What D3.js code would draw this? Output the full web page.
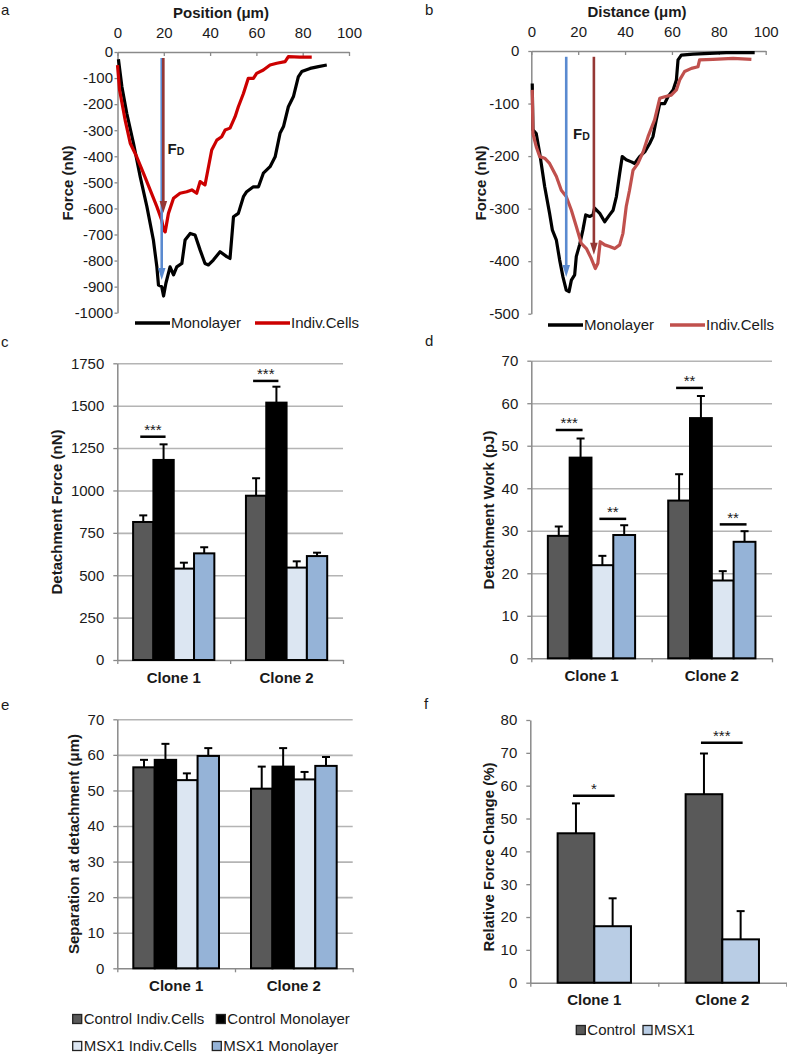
<!DOCTYPE html>
<html><head><meta charset="utf-8">
<script src="https://cdn.jsdelivr.net/npm/d3@7"></script>
<style>body{margin:0;background:#fff}svg{font-family:"Liberation Sans",Arial,sans-serif;display:block}</style>
</head><body>
<svg id="fig" width="787" height="1056"></svg>
<script>
// ---------------- DATA ----------------
// Panel a (Position µm, Force nN)
const aMonolayer = [[0.4,-28],[1.9,-133],[4,-235],[6.9,-350],[9.8,-478],[12.7,-593],[15.5,-721],[17,-824],[17.7,-894],[19.1,-900],[19.9,-936],[20.9,-887],[22.7,-824],[24.2,-855],[25.6,-824],[27.8,-811],[29.2,-721],[31.4,-696],[33.5,-702],[35.7,-760],[37.8,-811],[39.3,-817],[41.4,-798],[44.3,-766],[47.2,-785],[48.6,-792],[50.1,-632],[52.2,-619],[54.4,-555],[55.8,-536],[58.7,-517],[60.9,-517],[63,-465],[65.9,-440],[68.1,-402],[70.2,-312],[71.7,-286],[73.8,-210],[76,-171],[78.1,-95],[79.6,-75],[83.2,-63],[86.8,-56],[90.4,-50]];
const aIndivCells = [[0,-50],[0.9,-146],[3.3,-261],[5.5,-350],[8.3,-402],[11.2,-465],[14.1,-529],[17,-593],[19.1,-645],[19.9,-683],[20.6,-690],[22,-619],[24.2,-561],[27,-542],[29.9,-536],[32.1,-529],[34.2,-542],[35.7,-497],[37.8,-510],[40.7,-376],[42.9,-338],[45,-325],[46.5,-299],[48.6,-292],[50.8,-248],[52.2,-210],[54.4,-159],[56.5,-101],[58.7,-101],[60.1,-82],[63,-69],[65.9,-50],[68.8,-43],[72.4,-37],[73.8,-18],[78.8,-20],[83.9,-20]];
const aArrowX = [19.1, 19.8];
const aArrowTop = [-23, -23];
const aArrowTip = [-875, -618];

// Panel b (Distance µm, Force nN)
const bMonolayer = [[0.4,-62],[0.7,-150],[2.1,-157],[3.6,-195],[5.7,-258],[7.8,-309],[9,-341],[10.7,-360],[12.1,-398],[13.5,-430],[14.9,-455],[16.1,-458],[17.1,-436],[18.5,-426],[19.2,-391],[20.6,-369],[22,-341],[23.2,-312],[24.9,-315],[26.3,-312],[27,-299],[29.2,-309],[31.3,-325],[33.4,-312],[34.9,-303],[36.3,-277],[37.7,-233],[38.8,-201],[40.5,-207],[42.7,-211],[44.1,-214],[46.2,-201],[48.4,-192],[50.5,-176],[51.9,-163],[53.3,-131],[54.8,-100],[56.9,-100],[58.3,-87],[60.5,-74],[61.9,-55],[62.6,-17],[64,-8],[69,-6],[83.2,-3],[95.3,-3]];
const bIndivCells = [[0.4,-74],[0.7,-157],[2.1,-182],[3.6,-201],[5.7,-204],[7.8,-214],[10.7,-239],[12.8,-265],[14.9,-277],[17.1,-303],[19.2,-334],[21.3,-366],[23.5,-376],[25.6,-395],[27.3,-414],[28.4,-404],[29.4,-363],[31.3,-369],[33.4,-372],[35.6,-376],[37.7,-369],[39.1,-347],[40.5,-296],[41.9,-265],[43.4,-227],[45.5,-214],[47.7,-192],[49.8,-163],[52.6,-131],[54.8,-90],[56.9,-87],[59.7,-84],[61.9,-74],[63.3,-55],[65.4,-39],[68.3,-33],[71.1,-30],[71.8,-17],[77.5,-16],[86.1,-14],[93.9,-16]];
const bArrowX = [14.9, 26.7];
const bArrowTop = [-11, -11];
const bArrowTip = [-430, -388];

// Bar panels
const clones = ["Clone 1", "Clone 2"];
const series4 = ["Control Indiv.Cells", "Control Monolayer", "MSX1 Indiv.Cells", "MSX1 Monolayer"];
const series2 = ["Control", "MSX1"];

const forceMean = [[814, 1180, 539, 629], [969, 1518, 545, 613]];
const forceErr  = [[39, 92, 35, 36], [103, 94, 37, 20]];
const forceSig  = [[0, 0, 1, 1317, "***"], [1, 0, 1, 1646, "***"]];
const forceTicks = [0, 250, 500, 750, 1000, 1250, 1500, 1750];

const workMean = [[28.8, 47.2, 21.9, 29.0], [37.1, 56.5, 18.3, 27.4]];
const workErr  = [[2.2, 4.5, 2.2, 2.3], [6.2, 5.2, 2.2, 2.5]];
const workSig  = [[0, 0, 1, 53.7, "***"], [0, 2, 3, 32.8, "**"], [1, 0, 1, 63.6, "**"], [1, 2, 3, 31.5, "**"]];
const workTicks = [0, 10, 20, 30, 40, 50, 60, 70];

const sepMean = [[56.5, 58.6, 52.9, 59.7], [50.5, 56.7, 53.1, 56.9]];
const sepErr  = [[2.1, 4.5, 1.9, 2.2], [6.2, 5.2, 2.1, 2.5]];
const sepTicks = [0, 10, 20, 30, 40, 50, 60, 70];

const relMean = [[45.5, 17.2], [57.4, 13.2]];
const relErr  = [[9.1, 8.5], [12.4, 8.6]];
const relSig  = [[0, 0, 1, 56.9, "*"], [1, 0, 1, 73.1, "***"]];
const relTicks = [0, 10, 20, 30, 40, 50, 60, 70, 80];

const posTicks = [0, 20, 40, 60, 80, 100];
const aForceTicks = [0,-100,-200,-300,-400,-500,-600,-700,-800,-900,-1000];
const bForceTicks = [0,-100,-200,-300,-400,-500];

// ---------------- STYLE ----------------
const AXIS = "#8a8a8a", GRID = "#b4b4b4", TXT = "#1a1a1a";
const BLUE = "#5a8ad0", BROWN = "#953735";
const col4 = ["#595959", "#000000", "#dce6f2", "#95b3d7"];
const col2 = ["#595959", "#b9cde5"];
const fmt = d => String(d);

const svg = d3.select("#fig");

function styleAxis(s, fs) {
  s.attr("font-family", null).attr("font-size", null);
  s.selectAll(".domain").attr("stroke", AXIS).attr("stroke-width", 1.5);
  s.selectAll(".tick line").attr("stroke", AXIS).attr("stroke-width", 1.3);
  s.selectAll(".tick text").attr("fill", TXT).attr("font-size", fs);
}

function rotLabel(text, cx, cy) {
  svg.append("text").attr("transform", `translate(${cx},${cy}) rotate(-90)`)
    .attr("text-anchor", "middle").attr("dy", "0.35em")
    .attr("font-size", 15).attr("font-weight", "bold").attr("fill", TXT).text(text);
}
function panelLetter(t, x, y) {
  svg.append("text").attr("x", x).attr("y", y).attr("font-size", 15).attr("fill", TXT).text(t);
}

// ---------------- LINE PANELS ----------------
function linePanel(o) {
  const x = d3.scaleLinear().domain([0, 100]).range([o.x0, o.x1]);
  const y = d3.scaleLinear().domain([0, o.ymin]).range([o.yTop, o.yBot]);
  const g = svg.append("g");
  g.append("g").attr("transform", `translate(0,${o.yTop})`)
    .call(d3.axisTop(x).tickValues(posTicks).tickFormat(fmt).tickSizeInner(-4).tickSizeOuter(0).tickPadding(14))
    .call(s => styleAxis(s, 15));
  g.append("g").attr("transform", `translate(${o.x0},0)`)
    .call(d3.axisLeft(y).tickValues(o.yticks).tickFormat(fmt).tickSizeInner(3).tickSizeOuter(0).tickPadding(o.ypad))
    .call(s => styleAxis(s, 15));
  g.append("text").attr("x", o.titleX).attr("y", o.titleY).attr("text-anchor", "middle")
    .attr("font-size", 15).attr("font-weight", "bold").attr("fill", TXT).text(o.title);
  rotLabel("Force (nN)", o.ylx, o.yly);

  const line = d3.line().x(d => x(d[0])).y(d => y(d[1]));
  g.append("path").attr("d", line(o.mono)).attr("fill", "none").attr("stroke", "#000").attr("stroke-width", 3.2).attr("stroke-linejoin", "round");
  g.append("path").attr("d", line(o.indiv)).attr("fill", "none").attr("stroke", o.red).attr("stroke-width", 3.2).attr("stroke-linejoin", "round");

  // arrows (F_D)
  const acol = [BLUE, BROWN];
  o.arrowX.forEach((ax, i) => {
    const px = x(ax), ytop = y(o.arrowTop[i]), ytip = y(o.arrowTip[i]);
    const hl = 12, hw = 3.8;
    g.append("line").attr("x1", px).attr("x2", px).attr("y1", ytop).attr("y2", ytip - hl + 1)
      .attr("stroke", acol[i]).attr("stroke-width", 2.6);
    g.append("path").attr("d", `M${px - hw},${ytip - hl}L${px + hw},${ytip - hl}L${px},${ytip}Z`).attr("fill", acol[i]);
  });
  const fd = g.append("text").attr("x", o.fdX).attr("y", o.fdY).attr("font-weight", "bold").attr("fill", TXT);
  fd.append("tspan").attr("font-size", 15).text("F");
  fd.append("tspan").attr("font-size", 10.5).attr("dy", 1).text("D");

  // legend
  const lg = g.append("g");
  [[o.legX[0], "#000", "Monolayer"], [o.legX[1], o.red, "Indiv.Cells"]].forEach(([lx, c, t]) => {
    lg.append("line").attr("x1", lx).attr("x2", lx + 35).attr("y1", o.legY).attr("y2", o.legY).attr("stroke", c).attr("stroke-width", 3.5);
    lg.append("text").attr("x", lx + 36).attr("y", o.legY).attr("dy", "0.35em").attr("font-size", 15).attr("fill", TXT).text(t);
  });
}

linePanel({x0: 117.5, x1: 349, yTop: 52, yBot: 312.7, ymin: -1000, yticks: aForceTicks, ypad: 1.5,
  title: "Position (μm)", titleX: 221, titleY: 18, ylx: 68, yly: 183,
  mono: aMonolayer, indiv: aIndivCells, red: "#cc0000",
  arrowX: aArrowX, arrowTop: aArrowTop, arrowTip: aArrowTip, fdX: 167.5, fdY: 153.5,
  legX: [135, 255], legY: 323});
linePanel({x0: 531.3, x1: 765.7, yTop: 51, yBot: 313.7, ymin: -500, yticks: bForceTicks, ypad: 9,
  title: "Distance (μm)", titleX: 637, titleY: 16.5, ylx: 480.5, yly: 183,
  mono: bMonolayer, indiv: bIndivCells, red: "#c0504d",
  arrowX: bArrowX, arrowTop: bArrowTop, arrowTip: bArrowTip, fdX: 573, fdY: 138.5,
  legX: [548, 670], legY: 325});

// ---------------- BAR PANELS ----------------
function barPanel(o) {
  const g = svg.append("g");
  const max = o.ticks[o.ticks.length - 1];
  const y = d3.scaleLinear().domain([0, max]).range([o.yBot, o.yTop]);
  const xo = d3.scaleBand().domain(clones).range([o.x0, o.x1]);
  const gw = xo.bandwidth() * o.frac;
  const xi = d3.scaleBand().domain(d3.range(o.means[0].length)).range([0, gw]);
  const bw = xi.bandwidth();
  const bx = (ci, si) => xo(clones[ci]) + (xo.bandwidth() - gw) / 2 + xi(si);

  if (o.grid) {
    g.append("g").attr("transform", `translate(${o.x0},0)`)
      .call(d3.axisLeft(y).tickValues(o.ticks.filter(t => t > 0)).tickSize(-(o.x1 - o.x0)).tickFormat(""))
      .call(s => { s.select(".domain").remove(); s.selectAll("line").attr("stroke", GRID).attr("stroke-width", 1.6); });
  }
  g.append("g").attr("transform", `translate(${o.x0},0)`)
    .call(d3.axisLeft(y).tickValues(o.ticks).tickFormat(fmt).tickSizeInner(4).tickSizeOuter(0).tickPadding(9))
    .call(s => styleAxis(s, 15));
  g.append("g").attr("transform", `translate(0,${o.yBot})`)
    .call(d3.axisBottom(xo).tickSize(0).tickPadding(12))
    .call(s => { styleAxis(s, 15); s.selectAll(".tick text").attr("font-weight", "bold"); });
  const xb = d3.scaleLinear().domain([0, clones.length]).range([o.x0, o.x1]);
  g.append("g").attr("transform", `translate(0,${o.yBot})`)
    .call(d3.axisBottom(xb).tickValues(d3.range(clones.length + 1)).tickSize(4).tickFormat(""))
    .call(s => { s.select(".domain").remove(); s.selectAll("line").attr("stroke", AXIS).attr("stroke-width", 1.3); });

  // bars
  o.means.forEach((row, ci) => row.forEach((v, si) => {
    g.append("rect").attr("x", bx(ci, si)).attr("y", y(v)).attr("width", bw).attr("height", y(0) - y(v))
      .attr("fill", o.colors[si]).attr("stroke", "#000").attr("stroke-width", 2);
  }));
  // error bars
  o.means.forEach((row, ci) => row.forEach((v, si) => {
    const cx = bx(ci, si) + bw / 2, yt = y(v + o.errs[ci][si]);
    g.append("line").attr("x1", cx).attr("x2", cx).attr("y1", y(v)).attr("y2", yt).attr("stroke", "#000").attr("stroke-width", 2);
    g.append("line").attr("x1", cx - 4).attr("x2", cx + 4).attr("y1", yt).attr("y2", yt).attr("stroke", "#000").attr("stroke-width", 2);
  }));
  // significance
  (o.sig || []).forEach(([ci, a, b, v, lab]) => {
    const xa = bx(ci, a) + bw / 2 - 3, xbb = bx(ci, b) + bw / 2 + 2, yy = y(v);
    g.append("line").attr("x1", xa).attr("x2", xbb).attr("y1", yy).attr("y2", yy).attr("stroke", "#000").attr("stroke-width", 2.5);
    g.append("text").attr("x", (xa + xbb) / 2).attr("y", yy - 1.5).attr("text-anchor", "middle")
      .attr("font-size", 15).attr("fill", TXT).text(lab);
  });
  rotLabel(o.ylabel, o.ylx, o.yly);
}

barPanel({x0: 117.3, x1: 343, yTop: 363.3, yBot: 660, ticks: forceTicks, means: forceMean, errs: forceErr,
  sig: forceSig, colors: col4, frac: 0.72, grid: true, ylabel: "Detachment Force (nN)", ylx: 57, yly: 512});
barPanel({x0: 531.3, x1: 772, yTop: 360.7, yBot: 658.3, ticks: workTicks, means: workMean, errs: workErr,
  sig: workSig, colors: col4, frac: 0.725, grid: true, ylabel: "Detachment Work (pJ)", ylx: 488.5, yly: 510});
barPanel({x0: 117.3, x1: 352.7, yTop: 719.3, yBot: 968.3, ticks: sepTicks, means: sepMean, errs: sepErr,
  sig: [], colors: col4, frac: 0.728, grid: true, ylabel: "Separation at detachment (μm)", ylx: 74, yly: 844});
barPanel({x0: 530.3, x1: 786.3, yTop: 720, yBot: 982.7, ticks: relTicks, means: relMean, errs: relErr,
  sig: relSig, colors: col2, frac: 0.573, grid: false, ylabel: "Relative Force Change (%)", ylx: 488.5, yly: 857});

// ---------------- BAR LEGENDS ----------------
function legendItem(x, yc, color, text) {
  svg.append("rect").attr("x", x).attr("y", yc - 4.5).attr("width", 9).attr("height", 9)
    .attr("fill", color).attr("stroke", "#222").attr("stroke-width", 1.3);
  svg.append("text").attr("x", x + 11).attr("y", yc).attr("dy", "0.35em").attr("font-size", 15).attr("fill", TXT).text(text);
}
legendItem(72.7, 1019, col4[0], series4[0]);
legendItem(216.3, 1019, col4[1], series4[1]);
legendItem(72.7, 1046, col4[2], series4[2]);
legendItem(212.3, 1046, col4[3], series4[3]);
legendItem(576.3, 1030, col2[0], series2[0]);
legendItem(643, 1030, col2[1], series2[1]);

// panel letters
panelLetter("a", 1, 15);
panelLetter("b", 425, 15);
panelLetter("c", 1, 347);
panelLetter("d", 425, 346);
panelLetter("e", 1, 710);
panelLetter("f", 424, 709);
</script>
</body></html>
